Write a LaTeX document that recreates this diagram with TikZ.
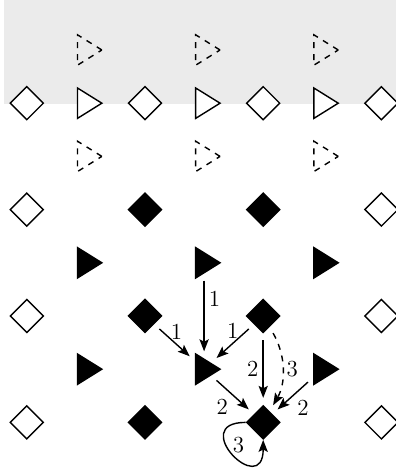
\documentclass[tikz,border=0pt]{standalone}
\usetikzlibrary{shapes.geometric,arrows.meta}
\definecolor{bandgray}{RGB}{235,235,235}
\tikzstyle{cell} = [diamond, draw, line width=0.7pt, fill=white, minimum width=16.8pt, minimum height=16.8pt, inner sep=0pt]
\tikzstyle{fullcell} = [cell, fill=black]
\tikzstyle{wedge} = [isosceles triangle, isosceles triangle stretches, draw, line width=0.7pt, fill=white, minimum width=15.2pt, minimum height=12.2pt, inner sep=0pt]
\tikzstyle{fullwedge} = [wedge, fill=black]
\tikzstyle{ghostwedge} = [wedge, dashed, fill=none]
\tikzstyle{flow} = [->, line width=0.7pt, >={Stealth[length=6pt, width=4.6pt, inset=1.2pt]}, shorten >=3.5pt, shorten <=3.5pt]
\tikzstyle{weight} = [inner sep=2pt, font=\fontsize{11.5}{14}\selectfont]
\begin{document}
\begin{tikzpicture}[x=29.55pt, y=-26.6pt]
\useasboundingbox (-0.4535,-0.9398) rectangle (6.247,7.895);

% grey band behind the top rows
\fill[bandgray] (-0.386,-0.9398) rectangle (6.247,1.02);

% dashed wedges above and below the first row
\foreach \c in {1,3,5} {
  \node[ghostwedge] (t\c0) at (\c,0) {};
  \node[ghostwedge] (t\c2) at (\c,2) {};
}

% first row
\foreach \c in {0,2,4,6} \node[cell] (d\c1) at (\c,1) {};
\foreach \c in {1,3,5} \node[wedge] (t\c1) at (\c,1) {};

% lower rows
\foreach \r in {3,5,7} {
  \node[cell] (d0\r) at (0,\r) {};
  \node[fullcell] (d2\r) at (2,\r) {};
  \node[fullcell] (d4\r) at (4,\r) {};
  \node[cell] (d6\r) at (6,\r) {};
}
\foreach \r in {4,6}
  \foreach \c in {1,3,5} \node[fullwedge] (t\c\r) at (\c,\r) {};

% weighted edges
\draw[flow] (t34) -- node[weight, right, pos=.3]{1} (t36);
\draw[flow] (d25) -- node[weight, above, pos=.55]{1} (t36);
\draw[flow] (d45) -- node[weight, above]{1} (t36);
\draw[flow] (d45) -- node[weight, left]{2} (d47);
\draw[flow, dashed] (d45) to[bend left=30] node[weight, right]{3} (d47);
\draw[flow] (t36) -- node[weight, below left]{2} (d47);
\draw[flow] (t56) -- node[weight, below right]{2} (d47);
\draw[flow, shorten <=0pt, shorten >=0pt] (d47.west) .. controls +(-1.0,0) and +(0,1.13) .. node[weight, inner sep=0pt, above right]{3} (d47.south);

\end{tikzpicture}
\end{document}
